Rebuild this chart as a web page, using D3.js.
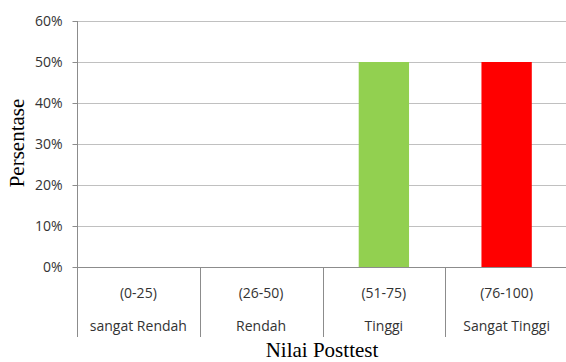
<!DOCTYPE html>
<html>
<head>
<meta charset="utf-8">
<script src="https://cdn.jsdelivr.net/npm/d3@7"></script>
<style>
  html, body { margin: 0; padding: 0; background: #fff; }
  svg { display: block; }
</style>
</head>
<body>
<svg id="chart" width="566" height="362"></svg>
<script>
// Score ranges, their level names, and the share of students in each
const ranges = ["(0-25)", "(26-50)", "(51-75)", "(76-100)"];
const levels = ["sangat Rendah", "Rendah", "Tinggi", "Sangat Tinggi"];
const values = [0, 0, 0.5, 0.5];
const colors = ["#92D050", "#92D050", "#92D050", "#FF0000"];
const yTicks = [0, 0.1, 0.2, 0.3, 0.4, 0.5, 0.6];

const svg = d3.select("#chart");
const plotLeft = 77, plotRight = 568, plotTop = 21, plotBottom = 267;

const x = d3.scaleBand().domain(ranges).range([plotLeft, plotRight]).paddingInner(0).paddingOuter(0);
const y = d3.scaleLinear().domain([0, 0.6]).range([plotBottom, plotTop]);

const labelFont = "'Open Sans', 'Noto Sans', sans-serif";
const serif = "'Liberation Serif', 'Times New Roman', serif";

// horizontal gridlines
svg.append("g").selectAll("line").data(yTicks.filter(d => d > 0)).join("line")
  .attr("x1", plotLeft).attr("x2", 566)
  .attr("y1", d => Math.round(y(d)) + 0.5).attr("y2", d => Math.round(y(d)) + 0.5)
  .attr("stroke", "#c0c0c0").attr("stroke-width", 1);

// bars
const barW = x.bandwidth() * 0.41;
svg.append("g").selectAll("rect").data(ranges).join("rect")
  .attr("x", d => x(d) + (x.bandwidth() - barW) / 2)
  .attr("y", (d, i) => y(values[i]))
  .attr("width", barW)
  .attr("height", (d, i) => y(0) - y(values[i]))
  .attr("fill", (d, i) => colors[i]);

// y axis
const yAxis = d3.axisLeft(y).tickValues(yTicks).tickFormat(d3.format(".0%")).tickSize(5).tickPadding(10);
const gy = svg.append("g").attr("transform", `translate(${plotLeft + 0.5},0)`).call(yAxis);
gy.select(".domain").attr("stroke", "#8c8c8c").attr("d", `M0,${plotTop}V${plotBottom}`);
gy.selectAll(".tick line").attr("stroke", "#8c8c8c");
gy.selectAll(".tick").attr("transform", d => `translate(0,${Math.round(y(d)) + 0.5})`);
gy.selectAll(".tick text").attr("font-family", labelFont).attr("font-size", 14).attr("fill", "#333");

// baseline
svg.append("line").attr("x1", plotLeft).attr("x2", 566)
  .attr("y1", plotBottom + 0.5).attr("y2", plotBottom + 0.5)
  .attr("stroke", "#8c8c8c");

// category separators below the baseline
svg.append("g").selectAll("line").data(ranges).join("line")
  .attr("x1", d => Math.round(x(d)) + 0.5).attr("x2", d => Math.round(x(d)) + 0.5)
  .attr("y1", plotBottom).attr("y2", 337)
  .attr("stroke", "#8c8c8c");

// two-row category labels
svg.append("g").selectAll("text").data(ranges).join("text")
  .attr("x", d => x(d) + x.bandwidth() / 2).attr("y", 298)
  .attr("text-anchor", "middle").attr("font-family", labelFont).attr("font-size", 14).attr("fill", "#333")
  .text(d => d);
svg.append("g").selectAll("text").data(levels).join("text")
  .attr("x", (d, i) => x(ranges[i]) + x.bandwidth() / 2).attr("y", 331)
  .attr("text-anchor", "middle").attr("font-family", labelFont).attr("font-size", 14).attr("fill", "#333")
  .text(d => d);

// axis titles
svg.append("text").attr("x", 322).attr("y", 357).attr("text-anchor", "middle")
  .attr("font-family", serif).attr("font-size", 21).attr("fill", "#000")
  .text("Nilai Posttest");
svg.append("text").attr("transform", "translate(24,143) rotate(-90)").attr("text-anchor", "middle")
  .attr("font-family", serif).attr("font-size", 21).attr("fill", "#000")
  .text("Persentase");
</script>
</body>
</html>
